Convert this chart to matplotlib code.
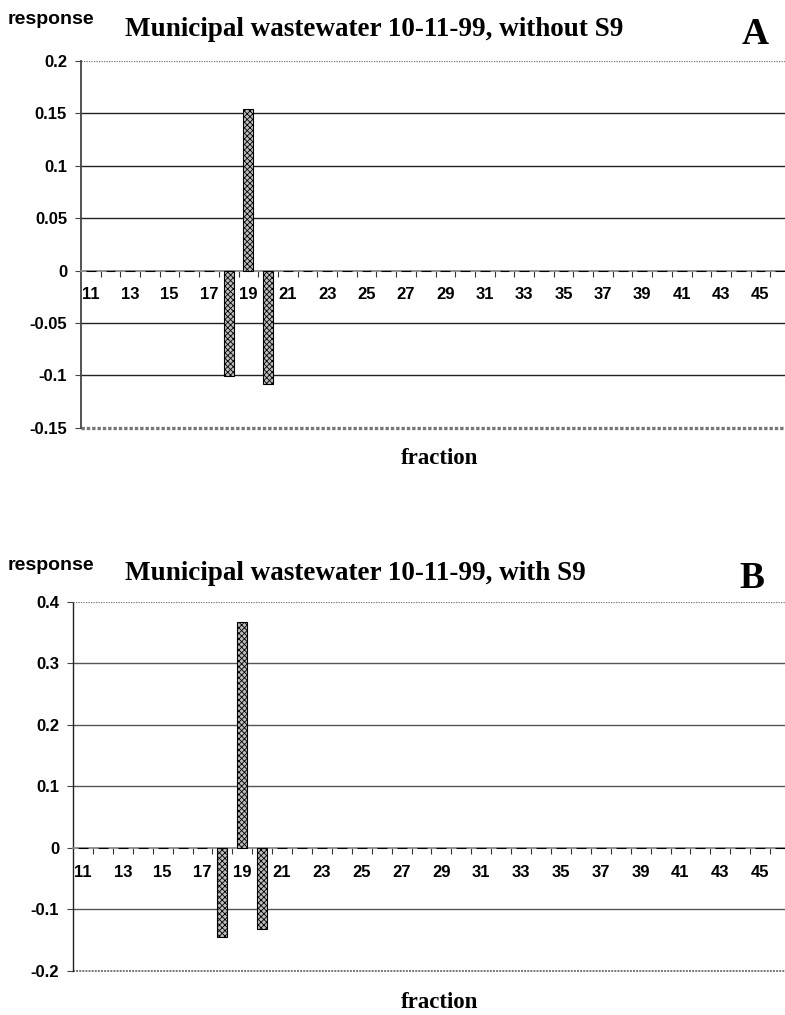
import numpy as np
import matplotlib
matplotlib.use("Agg")
import matplotlib.pyplot as plt
from matplotlib.ticker import FixedLocator, NullFormatter

# fractions 11..46 collected from the column
fractions = list(range(11, 47))

# response per fraction, without and with S9 activation
resp_without_s9 = [0.0] * len(fractions)
resp_without_s9[fractions.index(18)] = -0.101
resp_without_s9[fractions.index(19)] = 0.154
resp_without_s9[fractions.index(20)] = -0.108

resp_with_s9 = [0.0] * len(fractions)
resp_with_s9[fractions.index(18)] = -0.144
resp_with_s9[fractions.index(19)] = 0.367
resp_with_s9[fractions.index(20)] = -0.132

ticks_a = [-0.15, -0.1, -0.05, 0, 0.05, 0.1, 0.15, 0.2]
tick_labels_a = ["-0.15", "-0.1", "-0.05", "0", "0.05", "0.1", "0.15", "0.2"]
ticks_b = [-0.2, -0.1, 0, 0.1, 0.2, 0.3, 0.4]
tick_labels_b = ["-0.2", "-0.1", "0", "0.1", "0.2", "0.3", "0.4"]

W, H = 785, 1015
SERIF = "Liberation Serif"
SANS = "Liberation Sans"
plt.rcParams["font.family"] = SANS
plt.rcParams["font.weight"] = "bold"
plt.rcParams["font.size"] = 12
plt.rcParams["hatch.color"] = "#7c7c7c"
plt.rcParams["hatch.linewidth"] = 0.6


def px_axes(fig, left, right, top, bottom):
    # axes placed from pixel edges
    return fig.add_axes([left / W, 1 - bottom / H, (right - left) / W, (bottom - top) / H])


def draw_panel(ax, values, yticks, ylabels, grid_color, dotted_yaxis, bottom_lw):
    x = np.arange(len(fractions))

    # category axis sits on the zero line
    ax.spines["bottom"].set_position(("data", 0))
    ax.spines["bottom"].set_color("#888888")
    ax.spines["bottom"].set_linewidth(1.3)
    ax.spines["top"].set_visible(False)
    ax.spines["right"].set_visible(False)

    ax.bar(x, values, width=0.5, color="#bdbdbd", edgecolor="black",
           linewidth=0.8, hatch="xxxxxx", zorder=3)

    ax.set_xlim(-0.5, len(fractions) - 0.5)
    ax.set_ylim(yticks[0], yticks[-1])

    # horizontal grid lines plus the dotted frame lines
    for y in yticks[1:-1]:
        if y != 0:
            ax.axhline(y, color=grid_color, lw=1.0, zorder=1)
    ax.axhline(yticks[-1], color="#777777", lw=0.9, ls=(0, (1, 1)), zorder=1)
    ax.axhline(yticks[0], color="#777777", lw=bottom_lw, ls=(0, (1, 0.6)), zorder=1,
               clip_on=False)

    if dotted_yaxis:
        ax.spines["left"].set_linestyle((0, (1, 1)))
        ax.spines["left"].set_color("#222222")
        ax.spines["left"].set_linewidth(1.0)
    else:
        ax.spines["left"].set_color("#444444")
        ax.spines["left"].set_linewidth(1.3)

    ax.set_yticks(yticks)
    ax.set_yticklabels(ylabels)
    ax.tick_params(axis="y", length=4, width=0.8, pad=6, color="#444444")

    # ticks between fractions, labels on every other fraction
    ax.set_xticks(x[::2])
    ax.set_xticklabels([str(f) for f in fractions[::2]])
    ax.xaxis.set_minor_locator(FixedLocator(np.arange(0.5, len(fractions) - 0.5, 1.0)))
    ax.xaxis.set_minor_formatter(NullFormatter())
    ax.tick_params(axis="x", which="major", length=0, pad=12)
    ax.tick_params(axis="x", which="minor", length=4, width=0.8, direction="out",
                   color="#333333")


fig = plt.figure(figsize=(W / 100, H / 100), dpi=100)

ax_a = px_axes(fig, 81, 790, 61, 427.7)
draw_panel(ax_a, resp_without_s9, ticks_a, tick_labels_a, "#222222", False, 2.4)

ax_b = px_axes(fig, 73, 790, 601.7, 971)
draw_panel(ax_b, resp_with_s9, ticks_b, tick_labels_b, "#555555", True, 1.4)


def ftext(x, y, s, **kw):
    fig.text(x / W, 1 - y / H, s, **kw)


ftext(8, 20, "response", fontfamily=SANS, fontweight="bold", fontsize=14, va="center")
ftext(125, 29, "Municipal wastewater 10-11-99, without S9", fontfamily=SERIF,
      fontweight="bold", fontsize=19.5, va="center")
ftext(755, 35, "A", fontfamily=SERIF, fontweight="bold", fontsize=27, va="center", ha="center")
ftext(440, 458, "fraction", fontfamily=SERIF, fontweight="bold", fontsize=16.5,
      va="center", ha="center")

ftext(8, 565, "response", fontfamily=SANS, fontweight="bold", fontsize=14, va="center")
ftext(125, 573, "Municipal wastewater 10-11-99, with S9", fontfamily=SERIF,
      fontweight="bold", fontsize=19.5, va="center")
ftext(752, 578, "B", fontfamily=SERIF, fontweight="bold", fontsize=27, va="center", ha="center")
ftext(440, 1003, "fraction", fontfamily=SERIF, fontweight="bold", fontsize=16.5,
      va="center", ha="center")

fig.savefig("out.png", dpi=100)
